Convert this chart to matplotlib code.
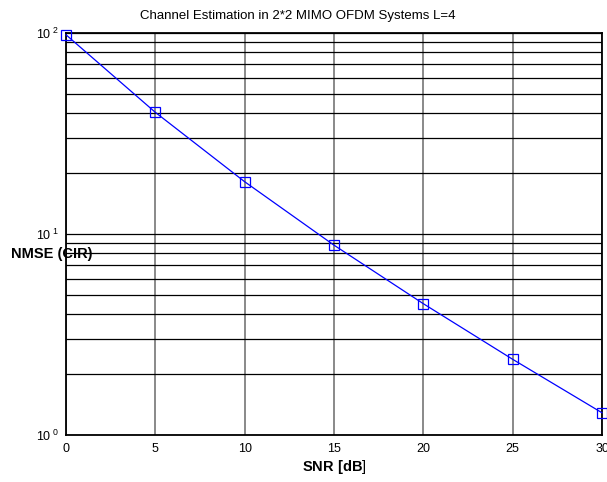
import matplotlib
matplotlib.use("Agg")
import matplotlib.pyplot as plt
from matplotlib.ticker import FixedLocator, FuncFormatter, NullFormatter
import numpy as np

plt.rcParams['font.family'] = ['Liberation Sans', 'DejaVu Sans']
plt.rcParams['mathtext.fontset'] = 'custom'
plt.rcParams['mathtext.rm'] = 'Liberation Sans'
plt.rcParams['mathtext.bf'] = 'Liberation Sans:bold'

snr = [0, 5, 10, 15, 20, 25, 30]
nmse = [98.0, 40.3, 18.2, 8.8, 4.5, 2.38, 1.29]
xticks = [0, 5, 10, 15, 20, 25, 30]
title = "Channel Estimation in 2*2 MIMO OFDM Systems L=4"

W, H = 607, 482
fig = plt.figure(figsize=(W/100, H/100), dpi=100)
ax = fig.add_axes([66/W, 1-435/H, 536/W, 402/H])

ax.plot(snr, nmse, color='#0000ff', lw=0.9, marker='s', markersize=7.5,
        markerfacecolor='none', markeredgecolor='#0000ff', markeredgewidth=0.9,
        clip_on=False, zorder=5)
ax.set_yscale('log')
ax.set_xlim(0, 30)
ax.set_ylim(1, 100)
ax.xaxis.set_major_locator(FixedLocator(xticks))
ax.yaxis.set_major_locator(FixedLocator([1, 10, 100]))
minors = [m * 10**e for e in (0, 1) for m in range(2, 10)]
ax.yaxis.set_minor_locator(FixedLocator(minors))
ax.yaxis.set_minor_formatter(NullFormatter())
ax.yaxis.set_major_formatter(FuncFormatter(
    lambda v, p: r'$\mathregular{10^{\ %d}}$' % int(round(np.log10(v)))))

ax.grid(True, axis='x', which='major', color='#808080', lw=1.3)
ax.grid(True, axis='y', which='both', color='black', lw=0.9)
ax.set_axisbelow(True)
for s in ax.spines.values():
    s.set_linewidth(1.3)
    s.set_color('black')
ax.tick_params(which='both', direction='in', length=0, labelsize=9, pad=6)
ax.tick_params(axis='y', pad=5)

fig.text(298/W, 1-16/H, title, fontsize=9.5, ha='center', va='center')
ax.set_xlabel(r'$\mathbf{SNR\ [dB}$]', fontsize=10.5)
ax.xaxis.label.set_position((0.5, 0))
ax.xaxis.set_label_coords(0.5, (435-467)/402)
ax.xaxis.label.set_va('center')
ax.set_ylabel('NMSE (CIR)', fontsize=10.5, fontweight='bold', rotation=0,
              ha='center', va='center')
ax.yaxis.set_label_coords((52-66)/536, (435-254)/402)

fig.savefig('out.png', dpi=100)
